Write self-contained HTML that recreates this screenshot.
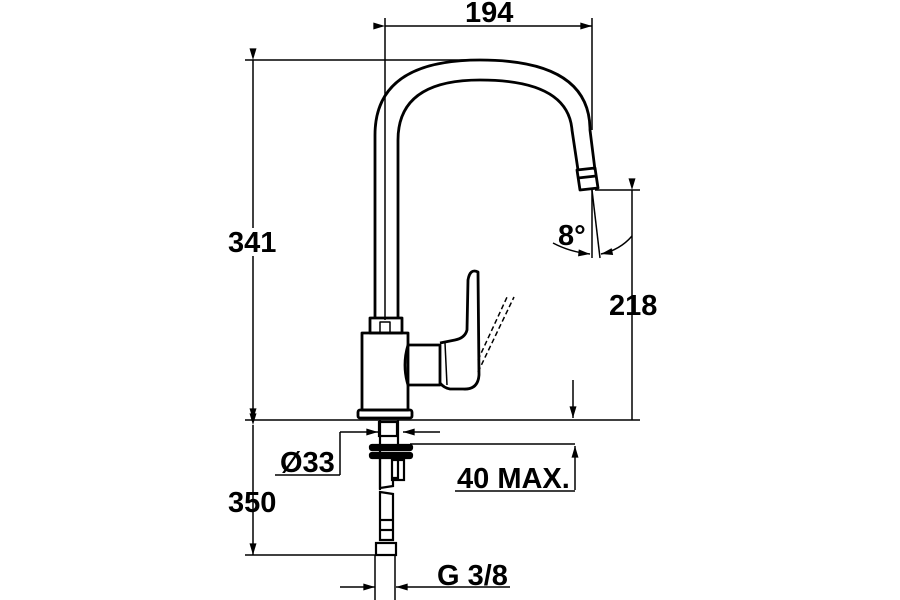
<!DOCTYPE html>
<html><head><style>body{margin:0;background:#fff}svg{display:block}text{font-family:"Liberation Sans",sans-serif;font-weight:bold;fill:#000}</style></head>
<body>
<svg width="900" height="600" viewBox="0 0 900 600" xmlns="http://www.w3.org/2000/svg">
<defs><marker id="a" viewBox="0 0 10 6" refX="10" refY="3" markerWidth="14" markerHeight="7" orient="auto" markerUnits="userSpaceOnUse"><path d="M0,0 L10,3 L0,6z" fill="#000"/></marker></defs>
<g stroke="#000" stroke-width="1.5" fill="none">
<line x1="385" y1="18" x2="385" y2="320"/>
<line x1="592" y1="18" x2="592" y2="130"/>
<line x1="385" y1="26" x2="592" y2="26" marker-start="url(#a)" marker-end="url(#a)"/>
<line x1="245" y1="60" x2="480" y2="60"/>
<line x1="253" y1="60" x2="253" y2="420" marker-start="url(#a)" marker-end="url(#a)"/>
<line x1="245" y1="420" x2="640" y2="420"/>
<line x1="595" y1="190" x2="640" y2="190"/>
<line x1="632" y1="190" x2="632" y2="420" marker-start="url(#a)"/>
<line x1="573" y1="380" x2="573" y2="418" marker-end="url(#a)"/>
<line x1="253" y1="425" x2="253" y2="555" marker-start="url(#a)" marker-end="url(#a)"/>
<line x1="245" y1="555" x2="375" y2="555"/>
<line x1="340" y1="432" x2="378" y2="432" marker-end="url(#a)"/>
<line x1="440" y1="432" x2="403" y2="432" marker-end="url(#a)"/>
<line x1="340" y1="432" x2="340" y2="475"/>
<line x1="275" y1="475" x2="340" y2="475"/>
<line x1="410" y1="444" x2="575" y2="444"/>
<line x1="575" y1="490" x2="575" y2="446" marker-end="url(#a)"/>
<line x1="455" y1="491" x2="575" y2="491"/>
<line x1="375" y1="555" x2="375" y2="600"/>
<line x1="395" y1="555" x2="395" y2="600"/>
<line x1="340" y1="587" x2="375" y2="587" marker-end="url(#a)"/>
<line x1="510" y1="587" x2="396" y2="587" marker-end="url(#a)"/>
<line x1="592" y1="190" x2="592" y2="258"/>
<line x1="592" y1="190" x2="600" y2="258"/>
<path d="M553,243 Q570,252 590,254" marker-end="url(#a)"/>
<path d="M632,236 Q620,250 601,254" marker-end="url(#a)"/>
</g>
<g stroke="#000" stroke-width="2.8" fill="none" stroke-linejoin="round">
<path d="M375,318 L375,135 Q375,60 480,60 Q590,60 590,130 L595,170"/>
<path d="M398,318 L398,140 Q398,80 480,80 Q568,80 572,130 L578,170"/>
<path d="M577,170 L595,168 L598,188 L580,190 Z"/>
<line x1="578" y1="178" x2="596" y2="176"/>
<rect x="370" y="318" width="32" height="15"/>
<rect x="380" y="322" width="10" height="11" stroke-width="1.5"/>
<path d="M362,333 L408,333 L408,410 L362,410 Z"/>
<rect x="358" y="410" width="54" height="8" rx="2"/>
<path d="M408,345 Q402,365 408,385 L440,385 L440,345 Z"/>
<path d="M440,343 L455,340 Q465,338 467,330 L468,280 Q470,268 478,272 L479,375 Q478,390 463,389 L450,389 Q444,388 440,383"/>
<line x1="445" y1="343" x2="447" y2="385" stroke-width="1.5"/>
</g>
<g stroke="#000" stroke-width="1.5" stroke-dasharray="5,3">
<line x1="478" y1="360" x2="508" y2="295"/>
<line x1="478" y1="372" x2="514" y2="297"/>
</g>
<g stroke="#000" stroke-width="2.2" fill="none">
<path d="M380,420 L380,490 M398,420 L398,445"/>
<rect x="379" y="422" width="18" height="14"/>
<rect x="370" y="445" width="42" height="5" rx="2" fill="#000"/>
<rect x="370" y="453" width="42" height="5" rx="2" fill="#000"/>
<path d="M380,458 L380,488 L393,486 L393,478 L398,478 L398,458"/>
<rect x="392" y="460" width="12" height="20"/>
<path d="M380,492 L393,494 L393,540 L380,540 Z"/>
<line x1="380" y1="520" x2="393" y2="520"/>
<line x1="380" y1="530" x2="393" y2="530"/>
<rect x="376" y="543" width="20" height="12"/>
</g>
<g font-size="29">
<text x="465" y="22">194</text>
<rect x="226" y="228" width="54" height="28" fill="#fff"/>
<text x="228" y="252">341</text>
<text x="609" y="315">218</text>
<text x="228" y="512">350</text>
<text x="558" y="245">8°</text>
<text x="280" y="472">Ø33</text>
<text x="457" y="488">40 MAX.</text>
<text x="437" y="585">G 3/8</text>
</g>
</svg>
</body></html>
